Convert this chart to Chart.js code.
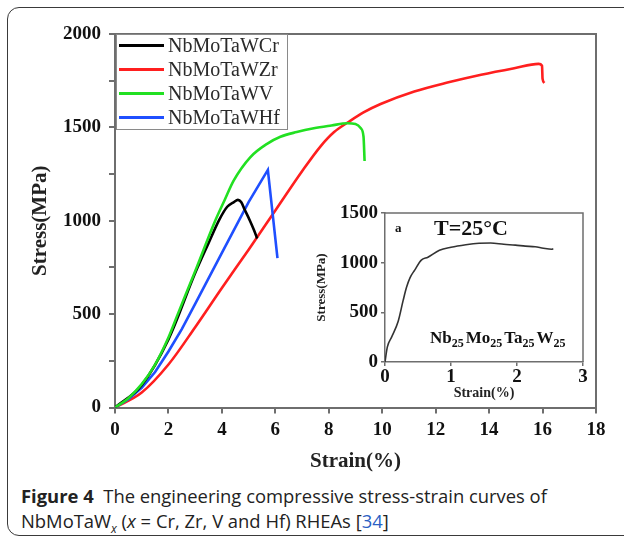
<!DOCTYPE html>
<html>
<head>
<meta charset="utf-8">
<script src="https://cdn.jsdelivr.net/npm/chart.js@4.4.0/dist/chart.umd.min.js"></script>
<style>
  html, body { margin: 0; padding: 0; background: #fff; }
  body { width: 624px; height: 541px; position: relative; overflow: hidden; }
  #frame {
    position: absolute; left: 7px; top: 7px; width: 640px; height: 529px;
    border: 1.5px solid #3a3a3a; border-radius: 12px; box-sizing: border-box;
  }
  #mainWrap { position: absolute; left: 0; top: 0; width: 624px; height: 480px; }
  #insetWrap { position: absolute; left: 300px; top: 195px; width: 292px; height: 210px; background: #fff; }
  #cap {
    position: absolute; left: 21px; top: 483px; width: 600px;
    font-family: "Open Sans", sans-serif; font-size: 18.4px; line-height: 25px; color: #222;
  }
  #cap b { font-weight: 700; }
  #cap sub { font-size: 12px; line-height: 0; }
  #cap .ref { color: #2b5fc4; }
</style>
</head>
<body>
<div id="frame"></div>
<div id="mainWrap"><canvas id="mainChart" width="624" height="480"></canvas></div>
<div id="insetWrap"><canvas id="insetChart" width="292" height="210"></canvas></div>
<div id="cap"><b>Figure 4</b>&nbsp; The engineering compressive stress-strain curves of<br>NbMoTaW<sub><i>x</i></sub> (<i>x</i> = Cr, Zr, V and Hf) RHEAs [<span class="ref">34</span>]</div>

<script>
// main chart data (strain %, stress MPa)
const seriesNames = ['NbMoTaWCr', 'NbMoTaWZr', 'NbMoTaWV', 'NbMoTaWHf'];
const seriesColors = ['#000000', '#ff1f1f', '#22e022', '#1f4fff'];

const crStrain = [0, 1, 2, 3, 3.5, 3.9, 4.2, 4.45, 4.6, 4.72, 4.85, 5.05, 5.2, 5.32];
const crStress = [0, 120, 365, 720, 880, 1005, 1075, 1100, 1112, 1100, 1060, 1000, 950, 905];

const zrStrain = [0, 1, 2, 3, 4, 5, 6, 7, 7.7, 8.2, 8.75, 9.3, 9.94, 11.2, 12.44, 13.7, 14.94, 15.85, 15.98, 16.0, 16.07];
const zrStress = [0, 80, 230, 430, 640, 845, 1055, 1265, 1400, 1475, 1530, 1580, 1625, 1692, 1740, 1782, 1817, 1840, 1830, 1760, 1738];

const vStrain = [0, 0.5, 1, 1.5, 2, 2.35, 3, 3.75, 4.1, 4.44, 5.06, 5.69, 6.19, 6.8, 7.44, 8.1, 8.69, 9.0, 9.2, 9.3, 9.34];
const vStress = [0, 50, 125, 230, 375, 500, 730, 1000, 1110, 1215, 1340, 1412, 1450, 1475, 1495, 1510, 1522, 1518, 1495, 1450, 1320];

const hfStrain = [0, 0.5, 1, 1.5, 2, 2.5, 3, 4, 5, 5.72, 6.08];
const hfStress = [0, 45, 105, 190, 300, 420, 555, 828, 1100, 1272, 800];

const xTicks = [0, 2, 4, 6, 8, 10, 12, 14, 16, 18];
const yTicks = [0, 250, 500, 750, 1000, 1250, 1500, 1750, 2000];
const yLabels = [0, 500, 1000, 1500, 2000];

// inset data
const nbStrain = [0, 0.035, 0.1, 0.2, 0.275, 0.325, 0.38, 0.45, 0.55, 0.65, 0.825, 1.0, 1.225, 1.425, 1.6, 1.8, 1.975, 2.125, 2.275, 2.4, 2.525, 2.55];
const nbStress = [0, 150, 250, 410, 620, 750, 850, 925, 1025, 1055, 1125, 1155, 1180, 1195, 1198, 1185, 1177, 1167, 1160, 1145, 1135, 1140];
const insetXTicks = [0, 1, 2, 3];
const insetYTicks = [0, 500, 1000, 1500];

const serif = '"Liberation Serif", "Times New Roman", serif';
const axisGray = '#6e6e6e';

function toPoints(xs, ys) {
    return xs.map((x, i) => ({ x: x, y: ys[i] }));
}

function setTicks(values) {
    return function(scale) {
        scale.ticks = values.map(v => ({ value: v }));
    };
}

// box around plot area
const framePlugin = {
    id: 'frame',
    afterDatasetsDraw(chart, args, opts) {
        const a = chart.chartArea;
        const ctx = chart.ctx;
        ctx.save();
        ctx.strokeStyle = opts.color || axisGray;
        ctx.lineWidth = opts.width || 2;
        ctx.beginPath();
        ctx.moveTo(a.left, a.top);
        ctx.lineTo(a.right, a.top);
        ctx.lineTo(a.right, a.bottom);
        ctx.stroke();
        ctx.restore();
    }
};

// legend drawn inside the top-left corner
const boxLegend = {
    id: 'boxLegend',
    afterDraw(chart) {
        const ctx = chart.ctx;
        const a = chart.chartArea;
        const x0 = a.left + 1, y0 = a.top + 0.5;
        ctx.save();
        ctx.fillStyle = '#fff';
        ctx.fillRect(x0, y0, 171, 95);
        ctx.strokeStyle = '#8a8a8a';
        ctx.lineWidth = 1;
        ctx.strokeRect(x0 + 0.5, y0, 171, 95);
        ctx.font = '20px ' + serif;
        ctx.textBaseline = 'middle';
        chart.data.datasets.forEach((ds, i) => {
            const y = y0 + 11 + i * 24;
            ctx.strokeStyle = ds.borderColor;
            ctx.lineWidth = 3;
            ctx.beginPath();
            ctx.moveTo(x0 + 3, y);
            ctx.lineTo(x0 + 48, y);
            ctx.stroke();
            ctx.fillStyle = '#2a2a2a';
            ctx.fillText(ds.label, x0 + 52, y + 1);
        });
        ctx.restore();
    }
};

const mainSeries = [
    [crStrain, crStress],
    [zrStrain, zrStress],
    [vStrain, vStress],
    [hfStrain, hfStress]
];
const drawOrder = [1, 3, 0, 2];

new Chart(document.getElementById('mainChart'), {
    type: 'line',
    data: {
        datasets: mainSeries.map((s, i) => ({
            label: seriesNames[i],
            data: toPoints(s[0], s[1]),
            borderColor: seriesColors[i],
            borderWidth: 2.6,
            pointRadius: 0,
            fill: false,
            // Hf has a sharp peak, keep it straight
            tension: i === 3 ? 0 : 0.4,
            cubicInterpolationMode: i === 3 ? 'default' : 'monotone',
            order: drawOrder[i]
        }))
    },
    options: {
        responsive: false,
        animation: false,
        events: [],
        layout: { padding: { left: 0, right: 28, top: 34, bottom: 0 } },
        plugins: { legend: { display: false }, tooltip: { enabled: false }, frame: { color: axisGray, width: 2 } },
        scales: {
            x: {
                type: 'linear', min: 0, max: 18,
                afterBuildTicks: setTicks(xTicks),
                afterFit: s => { s.height = 72.5; },
                border: { color: axisGray, width: 2 },
                grid: { drawOnChartArea: false, drawTicks: true, tickLength: 6, color: axisGray, lineWidth: 2 },
                ticks: { font: { family: serif, size: 19, weight: 'bold' }, color: '#111', padding: 5, maxRotation: 0, autoSkip: false },
                title: { display: true, text: 'Strain(%)', font: { family: serif, size: 21, weight: 'bold' }, color: '#222', padding: { top: 0, bottom: 6 } }
            },
            y: {
                type: 'linear', min: 0, max: 2000,
                afterBuildTicks: setTicks(yTicks),
                afterFit: s => { s.width = 115; },
                border: { color: axisGray, width: 2 },
                grid: { drawOnChartArea: false, drawTicks: true, tickLength: 6, color: axisGray, lineWidth: 2 },
                ticks: {
                    font: { family: serif, size: 19, weight: 'bold' }, color: '#111', padding: 8, autoSkip: false,
                    callback: v => yLabels.includes(v) ? String(v) : ''
                },
                title: { display: true, text: 'Stress(MPa)', font: { family: serif, size: 21, weight: 'bold' }, color: '#222', padding: { top: 28, bottom: 0 } }
            }
        }
    },
    plugins: [framePlugin, boxLegend]
});

// text labels inside the inset
const insetNotes = {
    id: 'insetNotes',
    afterDraw(chart) {
        const ctx = chart.ctx;
        const a = chart.chartArea;
        ctx.save();
        ctx.fillStyle = '#111';
        ctx.textBaseline = 'alphabetic';
        ctx.font = 'bold 13px ' + serif;
        ctx.fillText('a', a.left + 10, a.top + 19);
        ctx.font = 'bold 22px ' + serif;
        ctx.textAlign = 'center';
        ctx.fillText('T=25\u00b0C', a.left + 86, a.top + 22);
        ctx.textAlign = 'left';
        // Nb25Mo25Ta25W25
        const parts = ['Nb', '25', 'Mo', '25', 'Ta', '25', 'W', '25'];
        let x = a.left + 45;
        const base = a.top + 130;
        parts.forEach((p, i) => {
            const sub = i % 2 === 1;
            ctx.font = 'bold ' + (sub ? 12 : 17) + 'px ' + serif;
            ctx.fillText(p, x, sub ? base + 4 : base);
            x += ctx.measureText(p).width + (sub ? 2 : 0);
        });
        ctx.restore();
    }
};

new Chart(document.getElementById('insetChart'), {
    type: 'line',
    data: {
        datasets: [{
            label: 'Nb25Mo25Ta25W25',
            data: toPoints(nbStrain, nbStress),
            borderColor: '#333',
            borderWidth: 1.6,
            pointRadius: 0,
            fill: false,
            tension: 0.4,
            cubicInterpolationMode: 'monotone'
        }]
    },
    options: {
        responsive: false,
        animation: false,
        events: [],
        layout: { padding: { left: 0, right: 9, top: 18, bottom: 0 } },
        plugins: { legend: { display: false }, tooltip: { enabled: false }, frame: { color: axisGray, width: 1.5 } },
        scales: {
            x: {
                type: 'linear', min: 0, max: 3,
                afterBuildTicks: setTicks(insetXTicks),
                afterFit: s => { s.height = 43; },
                border: { color: axisGray, width: 1.5 },
                grid: { drawOnChartArea: false, drawTicks: true, tickLength: 4, color: axisGray, lineWidth: 1.5 },
                ticks: { font: { family: serif, size: 19, weight: 'bold' }, color: '#111', padding: 0, maxRotation: 0, autoSkip: false },
                title: { display: true, text: 'Strain(%)', font: { family: serif, size: 14, weight: 'bold' }, color: '#222', padding: { top: 0, bottom: 3 } }
            },
            y: {
                type: 'linear', min: 0, max: 1500,
                afterBuildTicks: setTicks(insetYTicks),
                afterFit: s => { s.width = 85; },
                border: { color: axisGray, width: 1.5 },
                grid: { drawOnChartArea: false, drawTicks: true, tickLength: 4, color: axisGray, lineWidth: 1.5 },
                ticks: {
                    font: { family: serif, size: 19, weight: 'bold' }, color: '#111', padding: 3, autoSkip: false,
                    callback: v => String(v)
                },
                title: { display: true, text: 'Stress(MPa)', font: { family: serif, size: 13, weight: 'bold' }, color: '#222', padding: { top: 14, bottom: 0 } }
            }
        }
    },
    plugins: [framePlugin, insetNotes]
});
</script>
</body>
</html>
